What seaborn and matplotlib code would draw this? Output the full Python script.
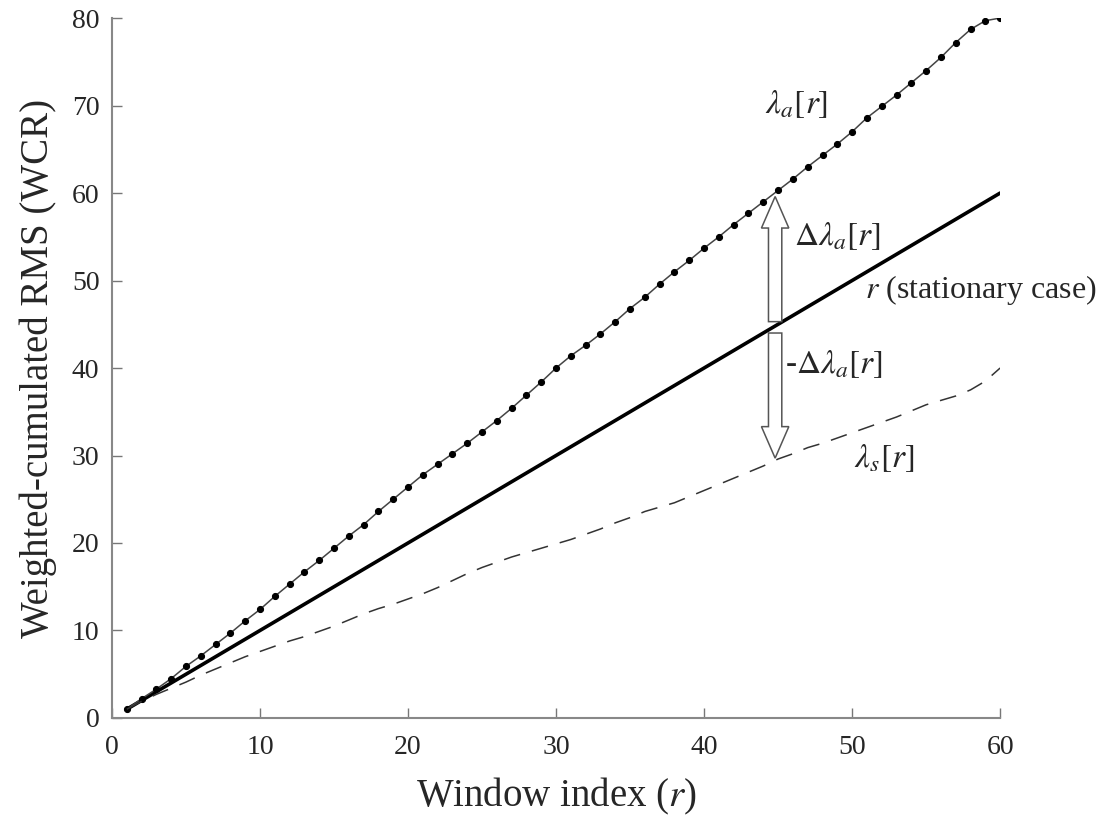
import numpy as np
import pandas as pd
import matplotlib
matplotlib.use("Agg")
import matplotlib.pyplot as plt
import seaborn as sns

# ---- data ----
r_index = list(range(1, 61))
lambda_a = [1.0, 2.2, 3.3, 4.5, 5.9, 7.1, 8.4, 9.7, 11.1, 12.4,
            13.9, 15.3, 16.7, 18.0, 19.4, 20.8, 22.1, 23.6, 25.0, 26.4,
            27.8, 29.0, 30.2, 31.4, 32.7, 34.0, 35.4, 36.9, 38.4, 40.0,
            41.4, 42.6, 43.9, 45.3, 46.8, 48.1, 49.6, 51.0, 52.3, 53.7,
            55.0, 56.4, 57.7, 59.0, 60.3, 61.6, 63.0, 64.3, 65.6, 67.0,
            68.6, 69.9, 71.2, 72.6, 74.0, 75.5, 77.2, 78.7, 79.7, 80.0]
lambda_s = [1.0, 1.9, 2.7, 3.4, 4.1, 4.9, 5.6, 6.3, 7.0, 7.6,
            8.2, 8.8, 9.3, 9.9, 10.5, 11.2, 11.9, 12.5, 13.0, 13.6,
            14.2, 14.9, 15.7, 16.5, 17.2, 17.8, 18.4, 18.9, 19.4, 19.9,
            20.4, 21.0, 21.6, 22.3, 22.9, 23.6, 24.1, 24.6, 25.3, 26.0,
            26.7, 27.4, 28.1, 28.8, 29.6, 30.2, 30.9, 31.4, 32.0, 32.6,
            33.2, 33.8, 34.4, 35.1, 35.8, 36.3, 36.8, 37.5, 38.5, 40.0]
stationary = r_index  # r (stationary case)
x_ticks = [0, 10, 20, 30, 40, 50, 60]
y_ticks = [0, 10, 20, 30, 40, 50, 60, 70, 80]
arrow_r = 45
up_arrow = (45.3, 59.6)    # from stationary line up to lambda_a
down_arrow = (44.0, 29.7)  # from stationary line down to lambda_s

df = pd.DataFrame({"r": r_index, "la": lambda_a, "ls": lambda_s, "st": stationary})

sns.set_theme(style="ticks")
plt.rcParams["font.family"] = ["Liberation Serif", "DejaVu Serif"]
plt.rcParams["mathtext.fontset"] = "stix"

fig = plt.figure(figsize=(11.13, 8.21), dpi=100)
ax = fig.add_axes([0.1006, 0.1255, 0.798, 0.8525])

sns.lineplot(data=df, x="r", y="st", ax=ax, color="black", linewidth=2.6)
sns.lineplot(data=df, x="r", y="la", ax=ax, color="#444444", linewidth=1.1,
             marker="o", markersize=4.4, markerfacecolor="black",
             markeredgecolor="black")
sns.lineplot(data=df, x="r", y="ls", ax=ax, color="#333333", linewidth=1.1)
ax.lines[-1].set_dashes([11, 8])

# arrows
for y0, y1 in [up_arrow, down_arrow]:
    ax.arrow(arrow_r - 0.2, y0, 0, y1 - y0, width=0.9, head_width=1.85,
             head_length=3.6, length_includes_head=True, fc="white",
             ec="#555555", lw=1.1, zorder=5)

fs_ann = 24
ax.text(44.1, 69.2, r"$\lambda_a[r]$", fontsize=fs_ann, ha="left", va="baseline")
ax.text(46.1, 54.1, r"$\Delta\lambda_a[r]$", fontsize=fs_ann, ha="left", va="baseline")
ax.text(50.9, 48.0, r"$r$ (stationary case)", fontsize=23, ha="left", va="baseline")
ax.text(45.5, 39.4, r"-$\Delta\lambda_a[r]$", fontsize=fs_ann, ha="left", va="baseline")
ax.text(50.1, 28.7, r"$\lambda_s[r]$", fontsize=fs_ann, ha="left", va="baseline")

ax.set_xlim(0, 60)
ax.set_ylim(0, 80)
ax.set_xticks(x_ticks)
ax.set_yticks(y_ticks)
ax.tick_params(direction="in", length=7, width=1, color="#777777",
               labelsize=20, pad=9)
ax.tick_params(axis="x", pad=12)
for s in ["top", "right"]:
    ax.spines[s].set_visible(False)
for s in ["left", "bottom"]:
    ax.spines[s].set_color("#888888")
    ax.spines[s].set_linewidth(1.5)

ax.set_xlabel(r"Window index ($r$)", fontsize=28, labelpad=12)
ax.set_ylabel("Weighted-cumulated RMS (WCR)", fontsize=28, labelpad=11)

fig.savefig("out.png", dpi=100)
